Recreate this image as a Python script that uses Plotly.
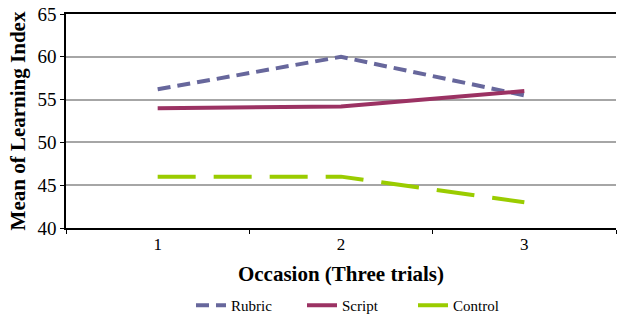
import plotly.graph_objects as go

occasions = ["1", "2", "3"]
rubric = [56.2, 60.0, 55.5]
script = [54.0, 54.2, 56.0]
control = [46.0, 46.0, 43.0]
y_ticks = [40, 45, 50, 55, 60, 65]

serif = "Times New Roman"

fig = go.Figure()
fig.add_trace(go.Scatter(x=occasions, y=rubric, name="Rubric", mode="lines",
                         line=dict(color="#67679c", width=4, dash="13px,7px")))
fig.add_trace(go.Scatter(x=occasions, y=script, name="Script", mode="lines",
                         line=dict(color="#9b3263", width=4)))
fig.add_trace(go.Scatter(x=occasions, y=control, name="Control", mode="lines",
                         line=dict(color="#9acc00", width=4, dash="38px,18px")))

fig.update_layout(
    width=617, height=322,
    margin=dict(l=66, r=1, t=14, b=93),
    paper_bgcolor="white", plot_bgcolor="white",
    font=dict(family=serif, color="black"),
    showlegend=True,
    legend=dict(orientation="h", x=0.53, xanchor="center", y=-0.36, yanchor="middle",
                font=dict(size=15, family=serif), itemwidth=30, tracegroupgap=0,
                entrywidth=66, entrywidthmode="pixels"),
    xaxis=dict(
        type="category", range=[-0.5, 2.5], tickson="boundaries", ticks="outside",
        ticklen=4, tickcolor="black", showline=True, linecolor="black", linewidth=1.5,
        mirror=True, showgrid=False, tickfont=dict(size=17, family=serif),
        title=dict(text="<b>Occasion (Three trials)</b>", font=dict(size=21, family=serif),
                   standoff=13),
    ),
    yaxis=dict(
        range=[40, 65], tickvals=y_ticks, ticks="outside", ticklen=4,
        tickcolor="black", showline=True, linecolor="black", linewidth=1.5,
        showgrid=True, gridcolor="#a6a6a6", gridwidth=1.5, zeroline=False,
        tickfont=dict(size=19, family=serif),
        title=dict(text="<b>Mean of Learning Index</b>", font=dict(size=21, family=serif),
                   standoff=6),
    ),
)

fig.write_html("out.html")
